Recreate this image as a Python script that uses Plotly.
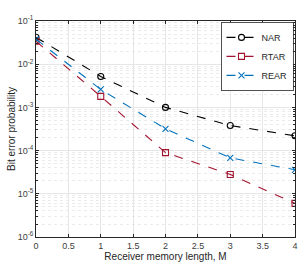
import plotly.graph_objects as go

M = [0, 1, 2, 3, 4]
nar = [0.042, 0.0052, 0.001, 0.00038, 0.00022]
rtar = [0.034, 0.0018, 0.00009, 0.000028, 0.000006]
rear = [0.038, 0.0026, 0.00032, 0.000068, 0.000036]

series = [
    ("NAR", nar, "#000000", "circle-open"),
    ("RTAR", rtar, "#A2142F", "square-open"),
    ("REAR", rear, "#0072BD", "x-thin-open"),
]

fig = go.Figure()
for name, ys, color, sym in series:
    fig.add_trace(go.Scatter(
        x=M, y=ys, name=name, mode="lines+markers",
        line=dict(color=color, width=1.1, dash="dash"),
        marker=dict(symbol=sym, size=6, color=color, line=dict(color=color, width=1.1)),
    ))

ytv = [1e-6, 1e-5, 1e-4, 1e-3, 1e-2, 1e-1]
ytt = ["10<sup>-6</sup>", "10<sup>-5</sup>", "10<sup>-4</sup>", "10<sup>-3</sup>", "10<sup>-2</sup>", "10<sup>-1</sup>"]
minor_y = [m * d for d in ytv[:-1] for m in range(2, 10)]
xtv = [0, 0.5, 1, 1.5, 2, 2.5, 3, 3.5, 4]
xtt = ["0", "0.5", "1", "1.5", "2", "2.5", "3", "3.5", "4"]

fig.update_layout(
    width=307, height=268,
    margin=dict(l=36, r=12, t=21, b=31),
    paper_bgcolor="white", plot_bgcolor="white",
    font=dict(family="Liberation Sans, Arial", size=9, color="#404040"),
    showlegend=True,
    legend=dict(
        x=0.995, y=0.995, xanchor="right", yanchor="top",
        bgcolor="white", bordercolor="#262626", borderwidth=0.8,
        font=dict(size=9, color="#262626"),
        itemwidth=30, tracegroupgap=0,
    ),
    xaxis=dict(
        range=[0, 4], tickvals=xtv, ticktext=xtt,
        showgrid=True, gridcolor="#e6e6e6", gridwidth=0.8,
        showline=True, linecolor="#262626", linewidth=0.8, mirror="ticks",
        ticks="inside", ticklen=3, tickcolor="#262626",
        zeroline=False, automargin=False,
        title=dict(text="Receiver memory length, M", font=dict(size=10, color="#262626"), standoff=0),
    ),
    yaxis=dict(
        type="log", range=[-6, -1], tickvals=ytv, ticktext=ytt,
        showgrid=True, gridcolor="#e6e6e6", gridwidth=0.8,
        showline=True, linecolor="#262626", linewidth=0.8, mirror="ticks",
        ticks="inside", ticklen=3, tickcolor="#262626",
        zeroline=False, automargin=False,
        minor=dict(tickvals=minor_y, showgrid=True, gridcolor="#ebebeb", griddash="dot", gridwidth=0.8,
                   ticks="inside", ticklen=2, tickcolor="#262626"),
        title=dict(text="Bit error probability", font=dict(size=10, color="#262626"), standoff=0),
    ),
)

fig.write_html("out.html", config={"displayModeBar": False},
               post_script="document.body.style.margin='0';document.body.style.overflow='hidden';")
